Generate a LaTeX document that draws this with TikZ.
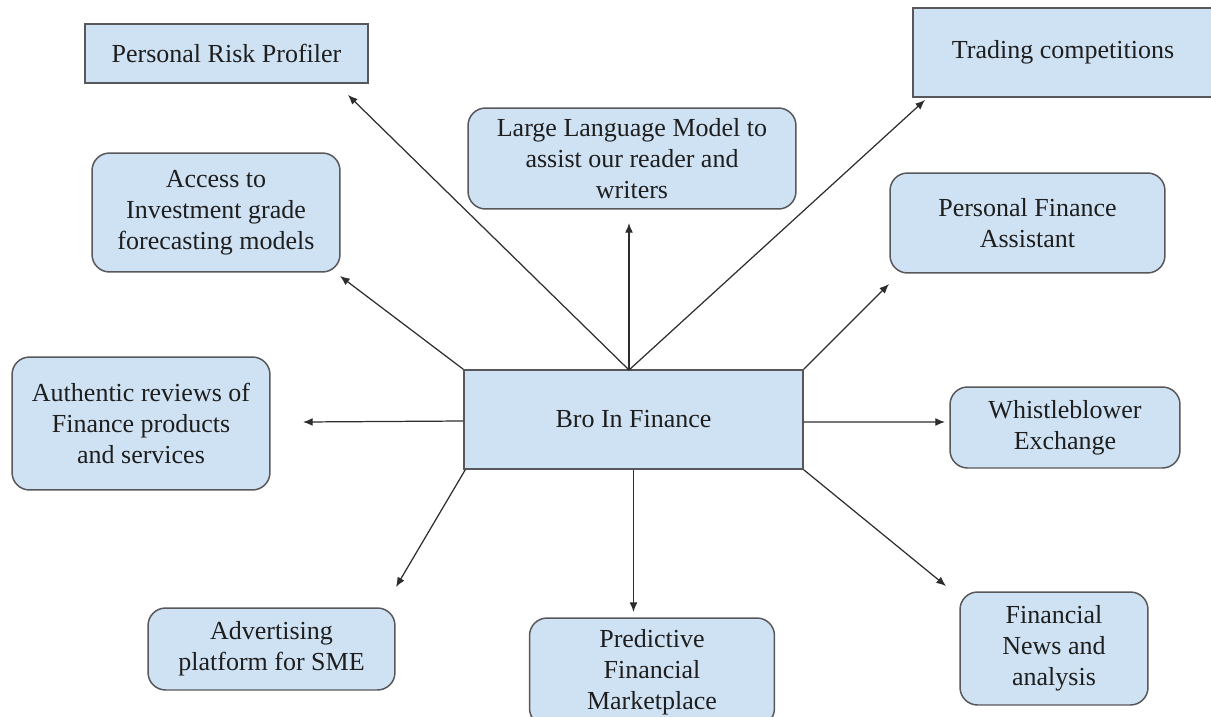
\documentclass[tikz,border=0pt]{standalone}
\usepackage{fontspec}
\setmainfont{Liberation Serif}
\usepackage{tikz}
\usetikzlibrary{arrows.meta, positioning, calc}
\definecolor{boxfill}{RGB}{207,226,243}
\definecolor{boxframe}{RGB}{88,88,92}
\definecolor{textdark}{RGB}{30,30,30}
\definecolor{linedark}{RGB}{45,45,45}
\tikzset{
  box/.style={rectangle, draw=boxframe, fill=boxfill, line width=0.85pt,
    align=center, inner sep=0pt, text=textdark,
    font=\fontsize{14.8}{17.6}\selectfont},
  roundbox/.style={box, rounded corners=10pt},
  arrow/.style={-{Latex[length=5.5pt,width=4.5pt]}, line width=0.7pt, color=linedark}
}

\begin{document}
\begin{tikzpicture}[x=0.02cm, y=-0.02cm]
  \useasboundingbox (0,0) rectangle (1211,717);
  % ── Hub ──
  \node[box, minimum width=6.78cm, minimum height=1.98cm] (bro) at (633.5,419.5) {Bro In Finance};
  % ── Top row ──
  \node[box, minimum width=5.66cm, minimum height=1.18cm] (risk) at (226.5,53.5) {Personal Risk Profiler};
  \node[box, minimum width=6.0cm, minimum height=1.78cm] (trading) at (1063,52.5) {Trading competitions};
  \node[roundbox, minimum width=6.56cm, minimum height=2.02cm] (llm) at (632,158.5)
    {Large Language Model to\\assist our reader and\\writers};
  \node[roundbox, minimum width=4.96cm, minimum height=2.38cm] (access) at (216,212.5)
    {Access to\\Investment grade\\forecasting models};
  \node[roundbox, minimum width=5.5cm, minimum height=2.0cm] (pfa) at (1027.5,223)
    {Personal Finance\\Assistant};
  % ── Middle row ──
  \node[roundbox, minimum width=5.16cm, minimum height=2.66cm] (reviews) at (141,423.5)
    {Authentic reviews of\\Finance products\\and services};
  \node[roundbox, minimum width=4.6cm, minimum height=1.62cm] (whistle) at (1065,427.5)
    {Whistleblower\\Exchange};
  % ── Bottom row ──
  \node[roundbox, minimum width=4.94cm, minimum height=1.64cm] (advert) at (271.5,649)
    {Advertising\\platform for SME};
  \node[roundbox, minimum width=4.9cm, minimum height=2.16cm] (market) at (652,672)
    {Predictive\\Financial\\Marketplace};
  \node[roundbox, minimum width=3.76cm, minimum height=2.26cm] (news) at (1054,648.5)
    {Financial\\News and\\analysis};
  % arrow start (top middle of hub) and tips (stop short of the boxes)
  \coordinate (hubTop) at (629,370);
  \coordinate (riskTip) at (348,95);
  \coordinate (tradingTip) at (925,100);
  \coordinate (llmTip) at (629,223);
  \coordinate (accessTip) at (340,276);
  \coordinate (pfaTip) at (889,284);
  \coordinate (reviewsTip) at (303,422);
  \coordinate (whistleTip) at (945,422);
  \coordinate (advertTip) at (396,587);
  \coordinate (marketTip) at (633.5,612);
  \coordinate (newsTip) at (946,586);
  % ── Connectors ──
  \draw[arrow] (hubTop) -- (riskTip);
  \draw[arrow] (hubTop) -- (tradingTip);
  \draw[arrow] (hubTop) -- (llmTip);
  \draw[arrow] (bro.north west) -- (accessTip);
  \draw[arrow] (bro.north east) -- (pfaTip);
  \draw[arrow] ([yshift=-1.5*0.02cm]bro.west) -- (reviewsTip);
  \draw[arrow] ([yshift=-2.5*0.02cm]bro.east) -- (whistleTip);
  \draw[arrow] ([xshift=2*0.02cm]bro.south west) -- (advertTip);
  \draw[arrow] (bro.south) -- (marketTip);
  \draw[arrow] (bro.south east) -- (newsTip);
\end{tikzpicture}
\end{document}
